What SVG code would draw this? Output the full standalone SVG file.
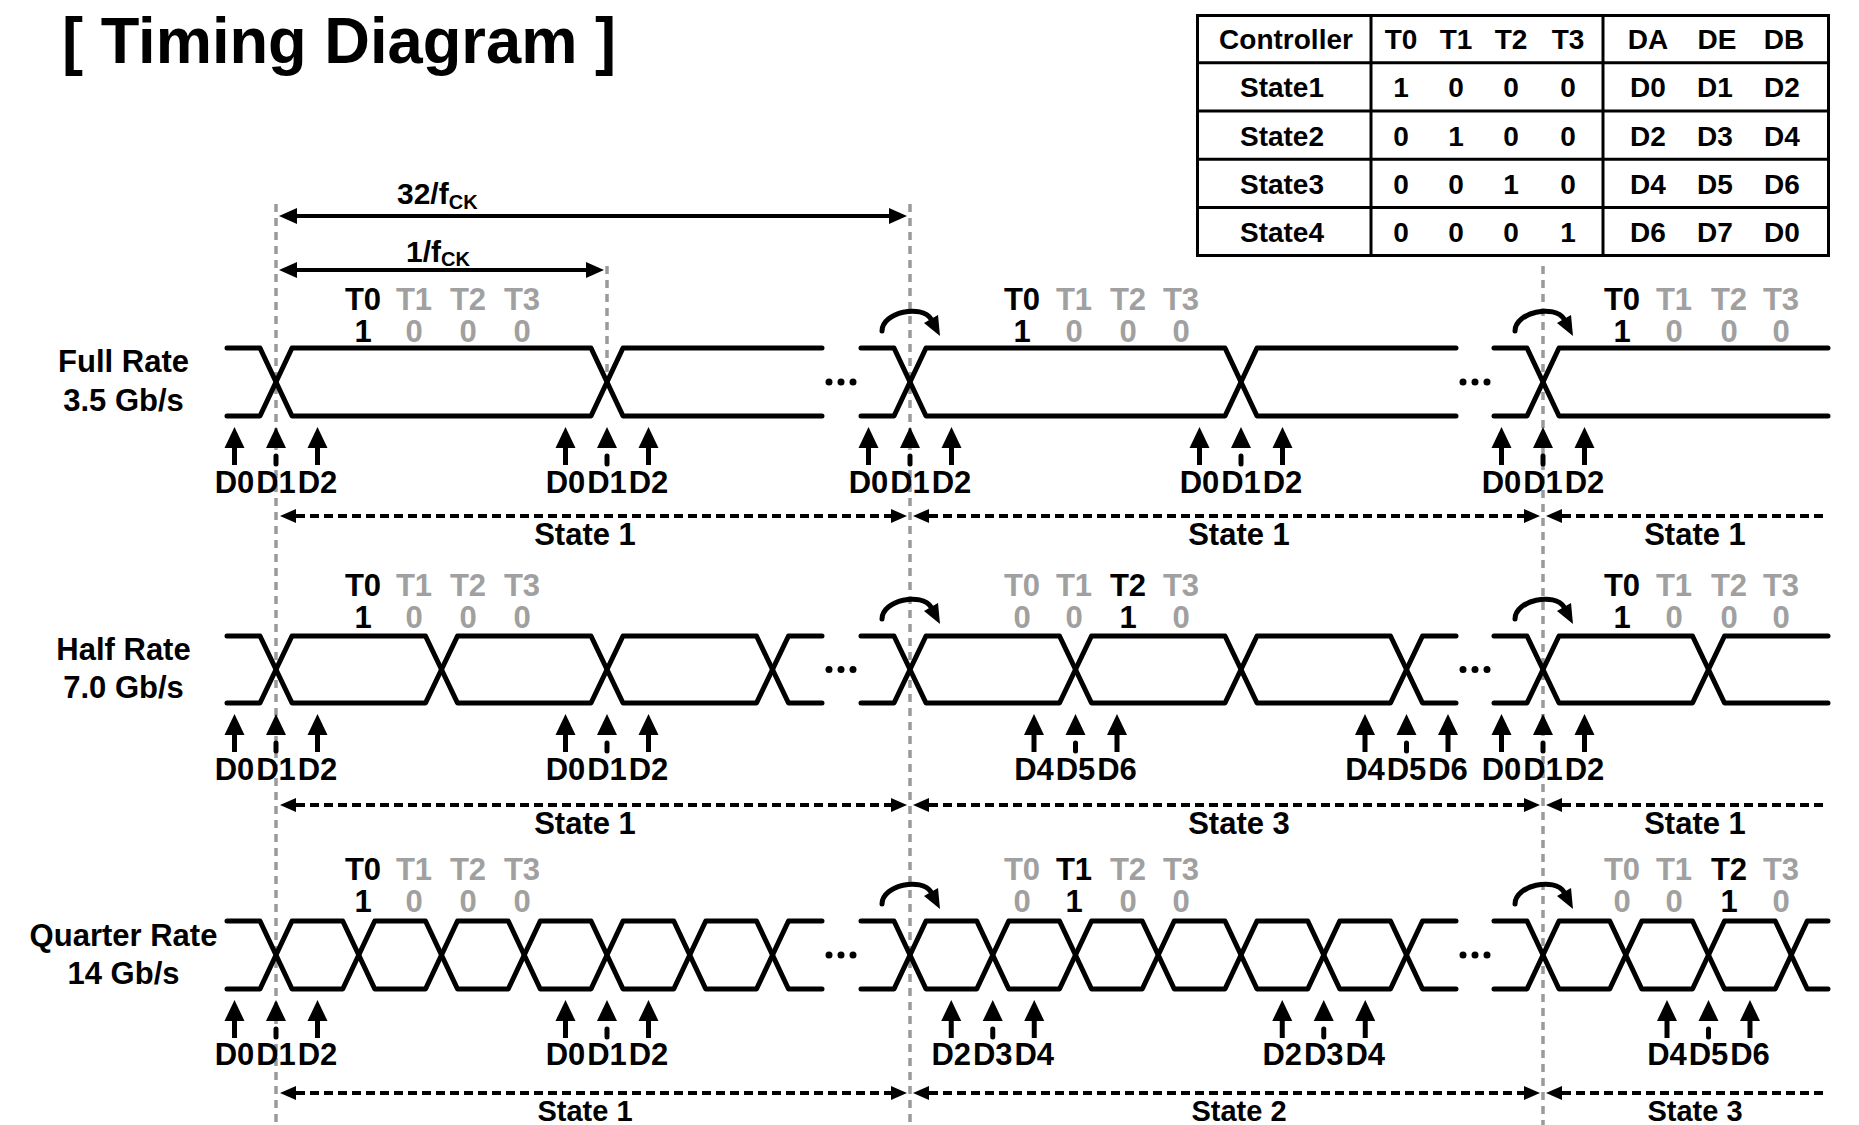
<svg xmlns="http://www.w3.org/2000/svg" xmlns:xlink="http://www.w3.org/1999/xlink" width="1859" height="1125" viewBox="0 0 1859 1125">
<style>
.t{font-family:"Liberation Sans",Arial,sans-serif;font-weight:bold;fill:#000}
.c{text-anchor:middle}
.gr{fill:#a0a0a0}
.w{fill:none;stroke:#000;stroke-width:5;stroke-linejoin:round;stroke-linecap:round}
.gd{fill:none;stroke:#9a9a9a;stroke-width:3.5;stroke-dasharray:8 6}
.sd{fill:none;stroke:#000;stroke-width:4;stroke-dasharray:9 5}
.dim{fill:none;stroke:#000;stroke-width:4}
.tb{fill:none;stroke:#000;stroke-width:3}
.cv{fill:none;stroke:#000;stroke-width:5;stroke-linecap:round}
</style>
<defs>
<g id="ua"><path d="M0,11 L10,32 L-10,32 Z" fill="#000"/><line x1="0" y1="30" x2="0" y2="49" stroke="#000" stroke-width="5"/></g>
<g id="um"><path d="M0,11 L10,32 L-10,32 Z" fill="#000"/><line x1="0" y1="40" x2="0" y2="48" stroke="#000" stroke-width="5" stroke-linecap="round"/></g>
<g id="curl"><path class="cv" d="M-28,-17 C-28,-36 12,-44 21,-29"/><path d="M30,-12 L14,-25 L28,-33 Z" fill="#000"/></g>
<g id="dots"><circle cx="-12" cy="0" r="3.5"/><circle cx="0" cy="0" r="3.5"/><circle cx="12" cy="0" r="3.5"/></g>
</defs>
<rect width="1859" height="1125" fill="#fff"/>

<g id="title"><text class="t" x="62" y="63" font-size="64" textLength="554" lengthAdjust="spacingAndGlyphs">[ Timing Diagram ]</text></g>

<g id="table">
<rect class="tb" x="1197.5" y="15.5" width="631" height="240"/>
<line class="tb" x1="1197.5" y1="62.7" x2="1828.5" y2="62.7"/>
<line class="tb" x1="1197.5" y1="111" x2="1828.5" y2="111"/>
<line class="tb" x1="1197.5" y1="159.3" x2="1828.5" y2="159.3"/>
<line class="tb" x1="1197.5" y1="207.5" x2="1828.5" y2="207.5"/>
<line class="tb" x1="1371" y1="15.5" x2="1371" y2="255.5"/>
<line class="tb" x1="1603" y1="15.5" x2="1603" y2="255.5" stroke-width="4.5"/>
<g class="t c" font-size="28">
<text x="1286" y="49">Controller</text><text x="1401" y="49">T0</text><text x="1456" y="49">T1</text><text x="1511" y="49">T2</text><text x="1568" y="49">T3</text><text x="1648" y="49">DA</text><text x="1717" y="49">DE</text><text x="1784" y="49">DB</text>
<text x="1282" y="97">State1</text><text x="1401" y="97">1</text><text x="1456" y="97">0</text><text x="1511" y="97">0</text><text x="1568" y="97">0</text><text x="1648" y="97">D0</text><text x="1715" y="97">D1</text><text x="1782" y="97">D2</text>
<text x="1282" y="145.5">State2</text><text x="1401" y="145.5">0</text><text x="1456" y="145.5">1</text><text x="1511" y="145.5">0</text><text x="1568" y="145.5">0</text><text x="1648" y="145.5">D2</text><text x="1715" y="145.5">D3</text><text x="1782" y="145.5">D4</text>
<text x="1282" y="194">State3</text><text x="1401" y="194">0</text><text x="1456" y="194">0</text><text x="1511" y="194">1</text><text x="1568" y="194">0</text><text x="1648" y="194">D4</text><text x="1715" y="194">D5</text><text x="1782" y="194">D6</text>
<text x="1282" y="242">State4</text><text x="1401" y="242">0</text><text x="1456" y="242">0</text><text x="1511" y="242">0</text><text x="1568" y="242">1</text><text x="1648" y="242">D6</text><text x="1715" y="242">D7</text><text x="1782" y="242">D0</text>
</g>
</g>

<g id="connectors">
<line class="gd" x1="276" y1="204" x2="276" y2="1125"/>
<line class="gd" x1="607" y1="266" x2="607" y2="382"/>
<line class="gd" x1="910" y1="204" x2="910" y2="1125"/>
<line class="gd" x1="1543" y1="266" x2="1543" y2="1125"/>
<line class="dim" x1="292" y1="216" x2="893" y2="216"/>
<path d="M279,216 L297,208 L297,224 Z M907,216 L889,208 L889,224 Z" fill="#000"/>
<line class="dim" x1="292" y1="270" x2="590" y2="270"/>
<path d="M279,270 L297,262 L297,278 Z M604,270 L586,262 L586,278 Z" fill="#000"/>
<g id="state-arrows">
<line class="sd" x1="296" y1="516" x2="891" y2="516"/><line class="sd" x1="929" y1="516" x2="1524" y2="516"/><line class="sd" x1="1562" y1="516" x2="1828" y2="516"/>
<path d="M280,516 L296,509 L296,523 Z M907,516 L891,509 L891,523 Z M913,516 L929,509 L929,523 Z M1540,516 L1524,509 L1524,523 Z M1546,516 L1562,509 L1562,523 Z" fill="#000"/>
<line class="sd" x1="296" y1="805" x2="891" y2="805"/><line class="sd" x1="929" y1="805" x2="1524" y2="805"/><line class="sd" x1="1562" y1="805" x2="1828" y2="805"/>
<path d="M280,805 L296,798 L296,812 Z M907,805 L891,798 L891,812 Z M913,805 L929,798 L929,812 Z M1540,805 L1524,798 L1524,812 Z M1546,805 L1562,798 L1562,812 Z" fill="#000"/>
<line class="sd" x1="296" y1="1093" x2="891" y2="1093"/><line class="sd" x1="929" y1="1093" x2="1524" y2="1093"/><line class="sd" x1="1562" y1="1093" x2="1828" y2="1093"/>
<path d="M280,1093 L296,1086 L296,1100 Z M907,1093 L891,1086 L891,1100 Z M913,1093 L929,1086 L929,1100 Z M1540,1093 L1524,1086 L1524,1100 Z M1546,1093 L1562,1086 L1562,1100 Z" fill="#000"/>
</g>
</g>

<g id="dimension-labels" class="t">
<text x="397" y="204" font-size="30">32/f<tspan font-size="20" dy="5">CK</tspan></text>
<text x="406" y="262" font-size="30">1/f<tspan font-size="20" dy="4">CK</tspan></text>
</g>

<g id="row-full">
<text class="t c" x="123.5" y="372" font-size="31">Full Rate</text>
<text class="t c" x="123.5" y="411" font-size="31">3.5 Gb/s</text>
<path class="w" d="M227,348 L260,348 L292,416 L591,416 L623,348 L822,348"/>
<path class="w" d="M227,416 L260,416 L292,348 L591,348 L623,416 L822,416"/>
<path class="w" d="M861,348 L894,348 L926,416 L1225,416 L1257,348 L1456,348"/>
<path class="w" d="M861,416 L894,416 L926,348 L1225,348 L1257,416 L1456,416"/>
<path class="w" d="M1494,348 L1527,348 L1559,416 L1828,416"/>
<path class="w" d="M1494,416 L1527,416 L1559,348 L1828,348"/>
<use href="#dots" x="841" y="382"/><use href="#dots" x="1475" y="382"/>
<use href="#curl" x="910" y="348"/><use href="#curl" x="1543" y="348"/>
<g class="t c" font-size="31">
<text x="363" y="310">T0</text><text class="gr" x="414" y="310">T1</text><text class="gr" x="468" y="310">T2</text><text class="gr" x="522" y="310">T3</text>
<text x="363" y="342">1</text><text class="gr" x="414" y="342">0</text><text class="gr" x="468" y="342">0</text><text class="gr" x="522" y="342">0</text>
<text x="1022" y="310">T0</text><text class="gr" x="1074" y="310">T1</text><text class="gr" x="1128" y="310">T2</text><text class="gr" x="1181" y="310">T3</text>
<text x="1022" y="342">1</text><text class="gr" x="1074" y="342">0</text><text class="gr" x="1128" y="342">0</text><text class="gr" x="1181" y="342">0</text>
<text x="1622" y="310">T0</text><text class="gr" x="1674" y="310">T1</text><text class="gr" x="1729" y="310">T2</text><text class="gr" x="1781" y="310">T3</text>
<text x="1622" y="342">1</text><text class="gr" x="1674" y="342">0</text><text class="gr" x="1729" y="342">0</text><text class="gr" x="1781" y="342">0</text>
</g>
<use href="#ua" x="234.5" y="416"/><use href="#um" x="276" y="416"/><use href="#ua" x="317.5" y="416"/>
<use href="#ua" x="565.5" y="416"/><use href="#um" x="607" y="416"/><use href="#ua" x="648.5" y="416"/>
<use href="#ua" x="868.5" y="416"/><use href="#um" x="910" y="416"/><use href="#ua" x="951.5" y="416"/>
<use href="#ua" x="1199.5" y="416"/><use href="#um" x="1241" y="416"/><use href="#ua" x="1282.5" y="416"/>
<use href="#ua" x="1501.5" y="416"/><use href="#um" x="1543" y="416"/><use href="#ua" x="1584.5" y="416"/>
<g class="t c" font-size="31">
<text x="234.5" y="493">D0</text><text x="276" y="493">D1</text><text x="317.5" y="493">D2</text>
<text x="565.5" y="493">D0</text><text x="607" y="493">D1</text><text x="648.5" y="493">D2</text>
<text x="868.5" y="493">D0</text><text x="910" y="493">D1</text><text x="951.5" y="493">D2</text>
<text x="1199.5" y="493">D0</text><text x="1241" y="493">D1</text><text x="1282.5" y="493">D2</text>
<text x="1501.5" y="493">D0</text><text x="1543" y="493">D1</text><text x="1584.5" y="493">D2</text>
<text x="585" y="545">State 1</text><text x="1239" y="545">State 1</text><text x="1695" y="545">State 1</text>
</g>
</g>

<g id="row-half">
<text class="t c" x="123.5" y="660" font-size="31">Half Rate</text>
<text class="t c" x="123.5" y="698" font-size="31">7.0 Gb/s</text>
<path class="w" d="M227,636 L260,636 L292,703 L425.5,703 L457.5,636 L591,636 L623,703 L756.5,703 L788.5,636 L822,636"/>
<path class="w" d="M227,703 L260,703 L292,636 L425.5,636 L457.5,703 L591,703 L623,636 L756.5,636 L788.5,703 L822,703"/>
<path class="w" d="M861,636 L894,636 L926,703 L1059.5,703 L1091.5,636 L1225,636 L1257,703 L1390.5,703 L1422.5,636 L1456,636"/>
<path class="w" d="M861,703 L894,703 L926,636 L1059.5,636 L1091.5,703 L1225,703 L1257,636 L1390.5,636 L1422.5,703 L1456,703"/>
<path class="w" d="M1494,636 L1527,636 L1559,703 L1692.5,703 L1724.5,636 L1828,636"/>
<path class="w" d="M1494,703 L1527,703 L1559,636 L1692.5,636 L1724.5,703 L1828,703"/>
<use href="#dots" x="841" y="669.5"/><use href="#dots" x="1475" y="669.5"/>
<use href="#curl" x="910" y="636"/><use href="#curl" x="1543" y="636"/>
<g class="t c" font-size="31">
<text x="363" y="596">T0</text><text class="gr" x="414" y="596">T1</text><text class="gr" x="468" y="596">T2</text><text class="gr" x="522" y="596">T3</text>
<text x="363" y="628">1</text><text class="gr" x="414" y="628">0</text><text class="gr" x="468" y="628">0</text><text class="gr" x="522" y="628">0</text>
<text class="gr" x="1022" y="596">T0</text><text class="gr" x="1074" y="596">T1</text><text x="1128" y="596">T2</text><text class="gr" x="1181" y="596">T3</text>
<text class="gr" x="1022" y="628">0</text><text class="gr" x="1074" y="628">0</text><text x="1128" y="628">1</text><text class="gr" x="1181" y="628">0</text>
<text x="1622" y="596">T0</text><text class="gr" x="1674" y="596">T1</text><text class="gr" x="1729" y="596">T2</text><text class="gr" x="1781" y="596">T3</text>
<text x="1622" y="628">1</text><text class="gr" x="1674" y="628">0</text><text class="gr" x="1729" y="628">0</text><text class="gr" x="1781" y="628">0</text>
</g>
<use href="#ua" x="234.5" y="703"/><use href="#um" x="276" y="703"/><use href="#ua" x="317.5" y="703"/>
<use href="#ua" x="565.5" y="703"/><use href="#um" x="607" y="703"/><use href="#ua" x="648.5" y="703"/>
<use href="#ua" x="1034" y="703"/><use href="#um" x="1075.5" y="703"/><use href="#ua" x="1117" y="703"/>
<use href="#ua" x="1365" y="703"/><use href="#um" x="1406.5" y="703"/><use href="#ua" x="1448" y="703"/>
<use href="#ua" x="1501.5" y="703"/><use href="#um" x="1543" y="703"/><use href="#ua" x="1584.5" y="703"/>
<g class="t c" font-size="31">
<text x="234.5" y="780">D0</text><text x="276" y="780">D1</text><text x="317.5" y="780">D2</text>
<text x="565.5" y="780">D0</text><text x="607" y="780">D1</text><text x="648.5" y="780">D2</text>
<text x="1034" y="780">D4</text><text x="1075.5" y="780">D5</text><text x="1117" y="780">D6</text>
<text x="1365" y="780">D4</text><text x="1406.5" y="780">D5</text><text x="1448" y="780">D6</text>
<text x="1501.5" y="780">D0</text><text x="1543" y="780">D1</text><text x="1584.5" y="780">D2</text>
<text x="585" y="834">State 1</text><text x="1239" y="834">State 3</text><text x="1695" y="834">State 1</text>
</g>
</g>

<g id="row-quarter">
<text class="t c" x="123.5" y="946" font-size="31">Quarter Rate</text>
<text class="t c" x="123.5" y="984" font-size="31">14 Gb/s</text>
<path class="w" d="M227,921 L260,921 L292,989 L342.75,989 L374.75,921 L425.5,921 L457.5,989 L508.25,989 L540.25,921 L591,921 L623,989 L673.75,989 L705.75,921 L756.5,921 L788.5,989 L822,989"/>
<path class="w" d="M227,989 L260,989 L292,921 L342.75,921 L374.75,989 L425.5,989 L457.5,921 L508.25,921 L540.25,989 L591,989 L623,921 L673.75,921 L705.75,989 L756.5,989 L788.5,921 L822,921"/>
<path class="w" d="M861,921 L894,921 L926,989 L976.75,989 L1008.75,921 L1059.5,921 L1091.5,989 L1142.25,989 L1174.25,921 L1225,921 L1257,989 L1307.75,989 L1339.75,921 L1390.5,921 L1422.5,989 L1456,989"/>
<path class="w" d="M861,989 L894,989 L926,921 L976.75,921 L1008.75,989 L1059.5,989 L1091.5,921 L1142.25,921 L1174.25,989 L1225,989 L1257,921 L1307.75,921 L1339.75,989 L1390.5,989 L1422.5,921 L1456,921"/>
<path class="w" d="M1494,921 L1527,921 L1559,989 L1609.75,989 L1641.75,921 L1692.5,921 L1724.5,989 L1775.25,989 L1807.25,921 L1828,921"/>
<path class="w" d="M1494,989 L1527,989 L1559,921 L1609.75,921 L1641.75,989 L1692.5,989 L1724.5,921 L1775.25,921 L1807.25,989 L1828,989"/>
<use href="#dots" x="841" y="955"/><use href="#dots" x="1475" y="955"/>
<use href="#curl" x="910" y="921"/><use href="#curl" x="1543" y="921"/>
<g class="t c" font-size="31">
<text x="363" y="880">T0</text><text class="gr" x="414" y="880">T1</text><text class="gr" x="468" y="880">T2</text><text class="gr" x="522" y="880">T3</text>
<text x="363" y="912">1</text><text class="gr" x="414" y="912">0</text><text class="gr" x="468" y="912">0</text><text class="gr" x="522" y="912">0</text>
<text class="gr" x="1022" y="880">T0</text><text x="1074" y="880">T1</text><text class="gr" x="1128" y="880">T2</text><text class="gr" x="1181" y="880">T3</text>
<text class="gr" x="1022" y="912">0</text><text x="1074" y="912">1</text><text class="gr" x="1128" y="912">0</text><text class="gr" x="1181" y="912">0</text>
<text class="gr" x="1622" y="880">T0</text><text class="gr" x="1674" y="880">T1</text><text x="1729" y="880">T2</text><text class="gr" x="1781" y="880">T3</text>
<text class="gr" x="1622" y="912">0</text><text class="gr" x="1674" y="912">0</text><text x="1729" y="912">1</text><text class="gr" x="1781" y="912">0</text>
</g>
<use href="#ua" x="234.5" y="989"/><use href="#um" x="276" y="989"/><use href="#ua" x="317.5" y="989"/>
<use href="#ua" x="565.5" y="989"/><use href="#um" x="607" y="989"/><use href="#ua" x="648.5" y="989"/>
<use href="#ua" x="951.25" y="989"/><use href="#um" x="992.75" y="989"/><use href="#ua" x="1034.25" y="989"/>
<use href="#ua" x="1282.25" y="989"/><use href="#um" x="1323.75" y="989"/><use href="#ua" x="1365.25" y="989"/>
<use href="#ua" x="1667" y="989"/><use href="#um" x="1708.5" y="989"/><use href="#ua" x="1750" y="989"/>
<g class="t c" font-size="31">
<text x="234.5" y="1065">D0</text><text x="276" y="1065">D1</text><text x="317.5" y="1065">D2</text>
<text x="565.5" y="1065">D0</text><text x="607" y="1065">D1</text><text x="648.5" y="1065">D2</text>
<text x="951.25" y="1065">D2</text><text x="992.75" y="1065">D3</text><text x="1034.25" y="1065">D4</text>
<text x="1282.25" y="1065">D2</text><text x="1323.75" y="1065">D3</text><text x="1365.25" y="1065">D4</text>
<text x="1667" y="1065">D4</text><text x="1708.5" y="1065">D5</text><text x="1750" y="1065">D6</text>
</g>
<g class="t c" font-size="29">
<text x="585" y="1121">State 1</text><text x="1239" y="1121">State 2</text><text x="1695" y="1121">State 3</text>
</g>
</g>
</svg>
